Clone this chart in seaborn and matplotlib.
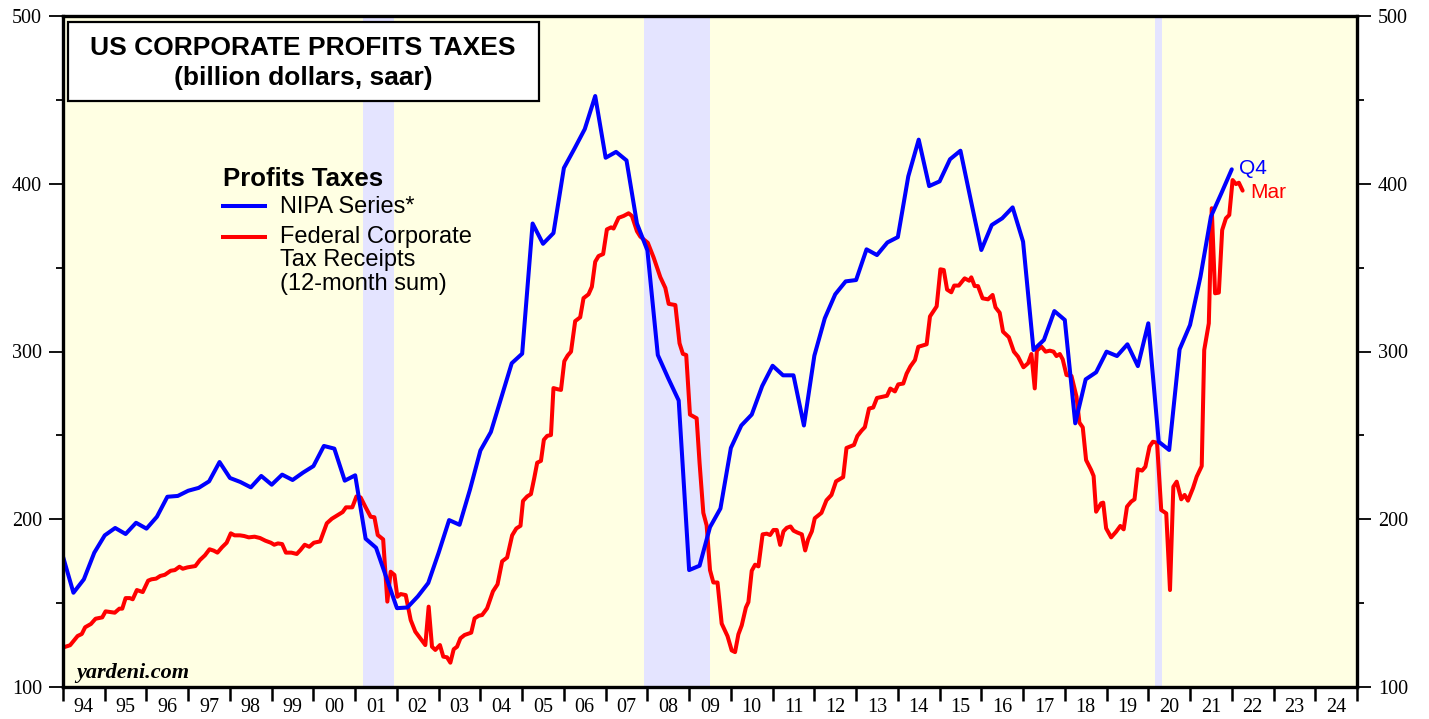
import numpy as np
import pandas as pd
import matplotlib
matplotlib.use("Agg")
import matplotlib.pyplot as plt
from matplotlib.patches import Rectangle
from matplotlib.ticker import FixedLocator, FixedFormatter, NullFormatter, MultipleLocator
import seaborn as sns

# ---- data ----
# NIPA corporate profits taxes, quarterly, plotted at quarter end (starts 1993Q4)
nipa_vals = [
    177.7, 156.2, 164.2, 180.1, 190.4, 194.8, 191.2, 197.9, 194.4, 201.5,
    213.4, 213.9, 217.0, 218.7, 222.6, 234.1, 224.6, 222.2, 219.0, 225.8,
    220.6, 226.6, 223.4, 227.8, 231.7, 243.7, 242.1, 223.0, 226.2, 188.4,
    183.0, 165.0, 147.0, 147.4, 154.0, 162.0, 180.1, 199.5, 196.7, 217.7,
    241.0, 252.0, 272.5, 293.0, 298.7, 376.3, 364.2, 370.6, 409.4, 420.8,
    432.6, 452.3, 415.5, 419.0, 413.9, 376.3, 360.3, 297.9, 284.0, 270.8,
    169.7, 172.3, 195.3, 206.4, 242.5, 255.9, 262.4, 279.4, 291.5, 285.8,
    285.8, 255.9, 297.5, 319.8, 334.1, 341.8, 342.6, 360.9, 357.5, 365.0,
    368.2, 404.4, 426.3, 398.6, 401.4, 414.6, 419.7, 390.0, 360.5, 375.4,
    379.4, 385.9, 365.5, 300.9, 306.9, 324.1, 318.8, 257.2, 283.4, 287.6,
    299.9, 297.3, 304.3, 291.3, 316.8, 246.2, 241.3, 301.3, 315.8, 344.6,
    380.4, 394.3, 408.6,
]
nipa_dates = 1994 + np.arange(len(nipa_vals)) / 4

# Federal corporate tax receipts, 12-month sum (decimal year, value)
fed_dates = [
    1994.02, 1994.17, 1994.35, 1994.45, 1994.53, 1994.67, 1994.78, 1994.94,
    1995.02, 1995.24, 1995.35, 1995.42, 1995.50, 1995.60, 1995.67, 1995.77, 1995.91,
    1996.04, 1996.12, 1996.23, 1996.33, 1996.44, 1996.58, 1996.68, 1996.79, 1996.87, 1996.98,
    1997.17, 1997.28, 1997.40, 1997.51, 1997.61, 1997.70, 1997.81, 1997.92,
    1998.02, 1998.11, 1998.24, 1998.34, 1998.45, 1998.59, 1998.72, 1998.85, 1998.98,
    1999.06, 1999.15, 1999.25, 1999.34, 1999.47, 1999.60, 1999.69, 1999.79, 1999.90,
    2000.01, 2000.16, 2000.25, 2000.32, 2000.44, 2000.57, 2000.70, 2000.78, 2000.93,
    2001.03, 2001.13, 2001.25, 2001.37, 2001.46, 2001.54, 2001.67, 2001.77, 2001.85, 2001.94,
    2002.01, 2002.09, 2002.21, 2002.33, 2002.44, 2002.56, 2002.68, 2002.76, 2002.84, 2002.92,
    2003.03, 2003.11, 2003.20, 2003.28, 2003.36, 2003.44, 2003.52, 2003.62, 2003.78, 2003.86, 2003.96,
    2004.04, 2004.16, 2004.30, 2004.41, 2004.52, 2004.64, 2004.76, 2004.86, 2004.96,
    2005.02, 2005.12, 2005.21, 2005.29, 2005.36, 2005.45, 2005.52, 2005.60, 2005.69, 2005.75, 2005.85, 2005.93,
    2006.01, 2006.09, 2006.17, 2006.27, 2006.39, 2006.47, 2006.59, 2006.67, 2006.75, 2006.83, 2006.94,
    2007.03, 2007.13, 2007.19, 2007.31, 2007.43, 2007.55, 2007.63, 2007.75, 2007.83,
    2008.01, 2008.15, 2008.31, 2008.43, 2008.51, 2008.67, 2008.77, 2008.85, 2008.93,
    2009.02, 2009.18, 2009.25, 2009.34, 2009.42, 2009.50, 2009.58, 2009.68, 2009.78, 2009.92,
    2010.02, 2010.10, 2010.18, 2010.26, 2010.36, 2010.42, 2010.50, 2010.58, 2010.66, 2010.76, 2010.86, 2010.94,
    2011.02, 2011.10, 2011.18, 2011.26, 2011.34, 2011.43, 2011.50, 2011.59, 2011.70, 2011.78, 2011.85, 2011.94,
    2012.01, 2012.17, 2012.29, 2012.41, 2012.52, 2012.69, 2012.77, 2012.95,
    2013.03, 2013.13, 2013.21, 2013.31, 2013.41, 2013.50, 2013.74, 2013.82, 2013.93,
    2014.01, 2014.13, 2014.21, 2014.30, 2014.41, 2014.49, 2014.69, 2014.77, 2014.93,
    2015.02, 2015.10, 2015.18, 2015.28, 2015.35, 2015.46, 2015.60, 2015.71, 2015.76, 2015.84, 2015.92,
    2016.03, 2016.16, 2016.27, 2016.34, 2016.44, 2016.52, 2016.66, 2016.78, 2016.88,
    2017.01, 2017.12, 2017.20, 2017.28, 2017.33, 2017.44, 2017.54, 2017.64, 2017.73, 2017.80, 2017.88, 2017.95,
    2018.04, 2018.16, 2018.28, 2018.35, 2018.43, 2018.51, 2018.63, 2018.69, 2018.75, 2018.87, 2018.92, 2018.99,
    2019.11, 2019.23, 2019.33, 2019.41, 2019.49, 2019.59, 2019.67, 2019.75, 2019.85, 2019.93,
    2020.03, 2020.11, 2020.21, 2020.31, 2020.43, 2020.52, 2020.60, 2020.68, 2020.79, 2020.87, 2020.95,
    2021.07, 2021.16, 2021.28, 2021.34, 2021.45, 2021.52, 2021.60, 2021.69, 2021.77, 2021.86, 2021.94,
    2022.02, 2022.10, 2022.17, 2022.26,
]
fed_vals = [
    123.7, 124.9, 130.4, 131.6, 135.6, 137.6, 140.7, 141.5,
    145.1, 144.3, 146.7, 146.7, 153.0, 153.0, 152.3, 157.8, 156.6,
    163.4, 164.2, 164.6, 166.2, 166.9, 169.3, 169.7, 171.7, 170.5, 171.3,
    172.1, 175.7, 178.5, 182.1, 181.3, 180.1, 183.3, 186.0,
    191.6, 190.4, 190.4, 190.0, 189.2, 189.6, 188.8, 187.2, 186.0,
    184.8, 185.6, 185.2, 180.1, 180.1, 179.3, 181.7, 184.8, 183.6,
    186.0, 186.8, 192.8, 197.6, 200.3, 202.3, 204.3, 207.1, 207.1,
    213.6, 213.0, 207.1, 201.5, 201.2, 190.6, 188.0, 150.9, 168.7, 166.8,
    153.8, 155.4, 154.8, 139.9, 133.0, 129.0, 125.0, 147.9, 124.0, 122.1,
    125.0, 118.1, 117.7, 114.5, 122.5, 124.0, 129.0, 131.0, 132.4, 140.9, 142.5,
    142.9, 146.9, 157.0, 161.2, 174.9, 177.2, 190.4, 194.5, 196.1,
    210.9, 213.6, 215.0, 224.6, 233.7, 234.8, 247.4, 249.7, 250.2, 278.2, 277.5, 277.1,
    294.2, 297.6, 299.9, 318.1, 320.4, 331.8, 334.1, 338.6, 353.5, 356.9, 358.1,
    372.8, 374.0, 373.3, 379.7, 380.8, 382.4, 380.8, 371.7, 368.5,
    364.8, 356.0, 344.3, 337.9, 328.4, 327.7, 304.9, 298.6, 297.9,
    262.4, 260.2, 233.6, 203.8, 196.3, 169.7, 162.3, 162.3, 137.8, 130.3,
    121.8, 120.8, 131.4, 136.7, 147.4, 150.6, 169.3, 172.9, 171.9, 191.0, 191.4, 190.6,
    193.6, 193.6, 184.7, 192.8, 194.9, 195.7, 193.2, 192.1, 191.0, 181.4, 187.9, 192.8,
    200.6, 203.8, 211.3, 214.5, 222.6, 225.1, 242.5, 244.3,
    249.6, 252.8, 254.9, 266.0, 266.6, 272.3, 273.6, 277.9, 276.2,
    280.4, 280.9, 286.8, 291.1, 294.9, 302.8, 304.3, 320.9, 326.9,
    349.0, 348.6, 336.9, 335.3, 339.3, 339.3, 343.6, 342.2, 344.2, 339.0, 339.0,
    331.7, 331.1, 333.7, 326.3, 323.1, 311.8, 308.5, 299.9, 296.9,
    290.6, 293.0, 298.5, 278.0, 300.5, 302.9, 299.9, 300.5, 299.9, 297.3, 298.5, 295.3,
    286.0, 285.4, 273.1, 257.6, 254.8, 235.3, 229.4, 225.8, 204.5, 209.5, 209.9, 194.6,
    189.2, 192.6, 196.0, 194.0, 207.5, 210.5, 211.9, 229.8, 229.0, 231.3,
    243.3, 246.2, 245.6, 205.5, 203.5, 157.8, 219.4, 222.4, 211.9, 214.5, 211.1,
    218.5, 225.4, 231.7, 300.9, 316.8, 385.4, 334.7, 335.1, 372.4, 379.4, 381.4,
    402.2, 399.8, 400.6, 395.9,
]

# recessions (decimal years)
recessions = [(2001.18, 2001.94), (2007.92, 2009.50), (2020.17, 2020.33)]

years = list(range(1994, 2026))
year_labels = [f"{y % 100:02d}" for y in range(1994, 2025)]

# ---- figure ----
sns.set_style("ticks")
plt.rcParams['font.family'] = ['Liberation Sans', 'DejaVu Sans']
plt.rcParams['text.color'] = 'black'
plt.rcParams['xtick.color'] = 'black'
plt.rcParams['ytick.color'] = 'black'
plt.rcParams['xtick.labelcolor'] = 'black'
plt.rcParams['ytick.labelcolor'] = 'black'

W, H = 1429, 719
fig = plt.figure(figsize=(W / 100, H / 100), dpi=100)
ax = fig.add_axes([63 / W, 1 - 687 / H, 1294 / W, 671 / H])
ax.set_facecolor('#FFFFE3')

for a, b in recessions:
    ax.axvspan(a, b, color='#E4E4FF', lw=0, zorder=0)

nipa = pd.DataFrame({'date': nipa_dates, 'value': nipa_vals})
fed = pd.DataFrame({'date': fed_dates, 'value': fed_vals})
sns.lineplot(data=fed, x='date', y='value', color='#FF0000', lw=2.9,
             estimator=None, sort=False, ax=ax, zorder=3)
sns.lineplot(data=nipa, x='date', y='value', color='#0000FF', lw=2.9,
             estimator=None, sort=False, ax=ax, zorder=4)

ax.set_xlim(1994, 2025)
ax.set_ylim(100, 500)
ax.set_xlabel('')
ax.set_ylabel('')

# x axis: ticks at year boundaries, labels in the middle
ax.xaxis.set_major_locator(FixedLocator(years))
ax.xaxis.set_major_formatter(NullFormatter())
ax.xaxis.set_minor_locator(FixedLocator([y + 0.5 for y in range(1994, 2025)]))
ax.xaxis.set_minor_formatter(FixedFormatter(year_labels))
ax.tick_params(axis='x', which='major', length=10, width=1.8, direction='out', color='black')
ax.tick_params(axis='x', which='minor', length=0, pad=8, labelsize=14.5,
               labelfontfamily='Liberation Serif', labelcolor='black')

# y axis both sides
ax.yaxis.set_major_locator(MultipleLocator(100))
ax.yaxis.set_minor_locator(MultipleLocator(50))
ax.tick_params(axis='y', which='both', left=True, right=True, labelleft=True, labelright=True,
               direction='out', color='black')
ax.tick_params(axis='y', which='major', length=10, width=1.3, pad=5, labelsize=14.5,
               labelfontfamily='Liberation Serif', labelcolor='black')
ax.tick_params(axis='y', which='minor', length=5, width=1.3)

for s in ax.spines.values():
    s.set_visible(True)
    s.set_linewidth(2.4)
    s.set_color('black')
    s.set_zorder(6)

# title box
def fx(px):
    return (px - 62) / 1294

def fy(py):
    return (687 - py) / 671

ax.add_patch(Rectangle((fx(67), fy(101)), fx(538) - fx(67), fy(22) - fy(101),
                       transform=ax.transAxes, facecolor='white', edgecolor='black',
                       lw=1.6, zorder=7))
ax.text(fx(302), fy(48), "US CORPORATE PROFITS TAXES", transform=ax.transAxes,
        ha='center', va='center', fontsize=19, fontweight='bold', color='black', zorder=8)
ax.text(fx(302), fy(78), "(billion dollars, saar)", transform=ax.transAxes,
        ha='center', va='center', fontsize=19, fontweight='bold', color='black', zorder=8)

# legend drawn by hand
ax.text(fx(222), fy(179), "Profits Taxes", transform=ax.transAxes,
        ha='left', va='center', fontsize=18.5, fontweight='bold', color='black', zorder=8)
ax.plot([fx(220), fx(266)], [fy(206), fy(206)], transform=ax.transAxes,
        color='#0000FF', lw=2.9, solid_capstyle='butt', zorder=8)
ax.plot([fx(220), fx(266)], [fy(237), fy(237)], transform=ax.transAxes,
        color='#FF0000', lw=2.9, solid_capstyle='butt', zorder=8)
ax.text(fx(279), fy(207), "NIPA Series*", transform=ax.transAxes,
        ha='left', va='center', fontsize=17, color='black', zorder=8)
for txt, py in [("Federal Corporate", 237), ("Tax Receipts", 260), ("(12-month sum)", 284)]:
    ax.text(fx(279), fy(py), txt, transform=ax.transAxes,
            ha='left', va='center', fontsize=17, color='black', zorder=8)

# end labels
ax.text(2022.18, 408.8, "Q4", color='#0000FF', ha='left', va='center', fontsize=15, zorder=8)
ax.text(2022.44, 394.5, "Mar", color='#FF0000', ha='left', va='center', fontsize=15, zorder=8)

ax.text(fx(75), fy(678), "yardeni.com", transform=ax.transAxes, ha='left', va='baseline',
        fontsize=16, fontweight='bold', fontstyle='italic', family='Liberation Serif',
        color='black', zorder=8)

fig.savefig("out.png", dpi=100)
